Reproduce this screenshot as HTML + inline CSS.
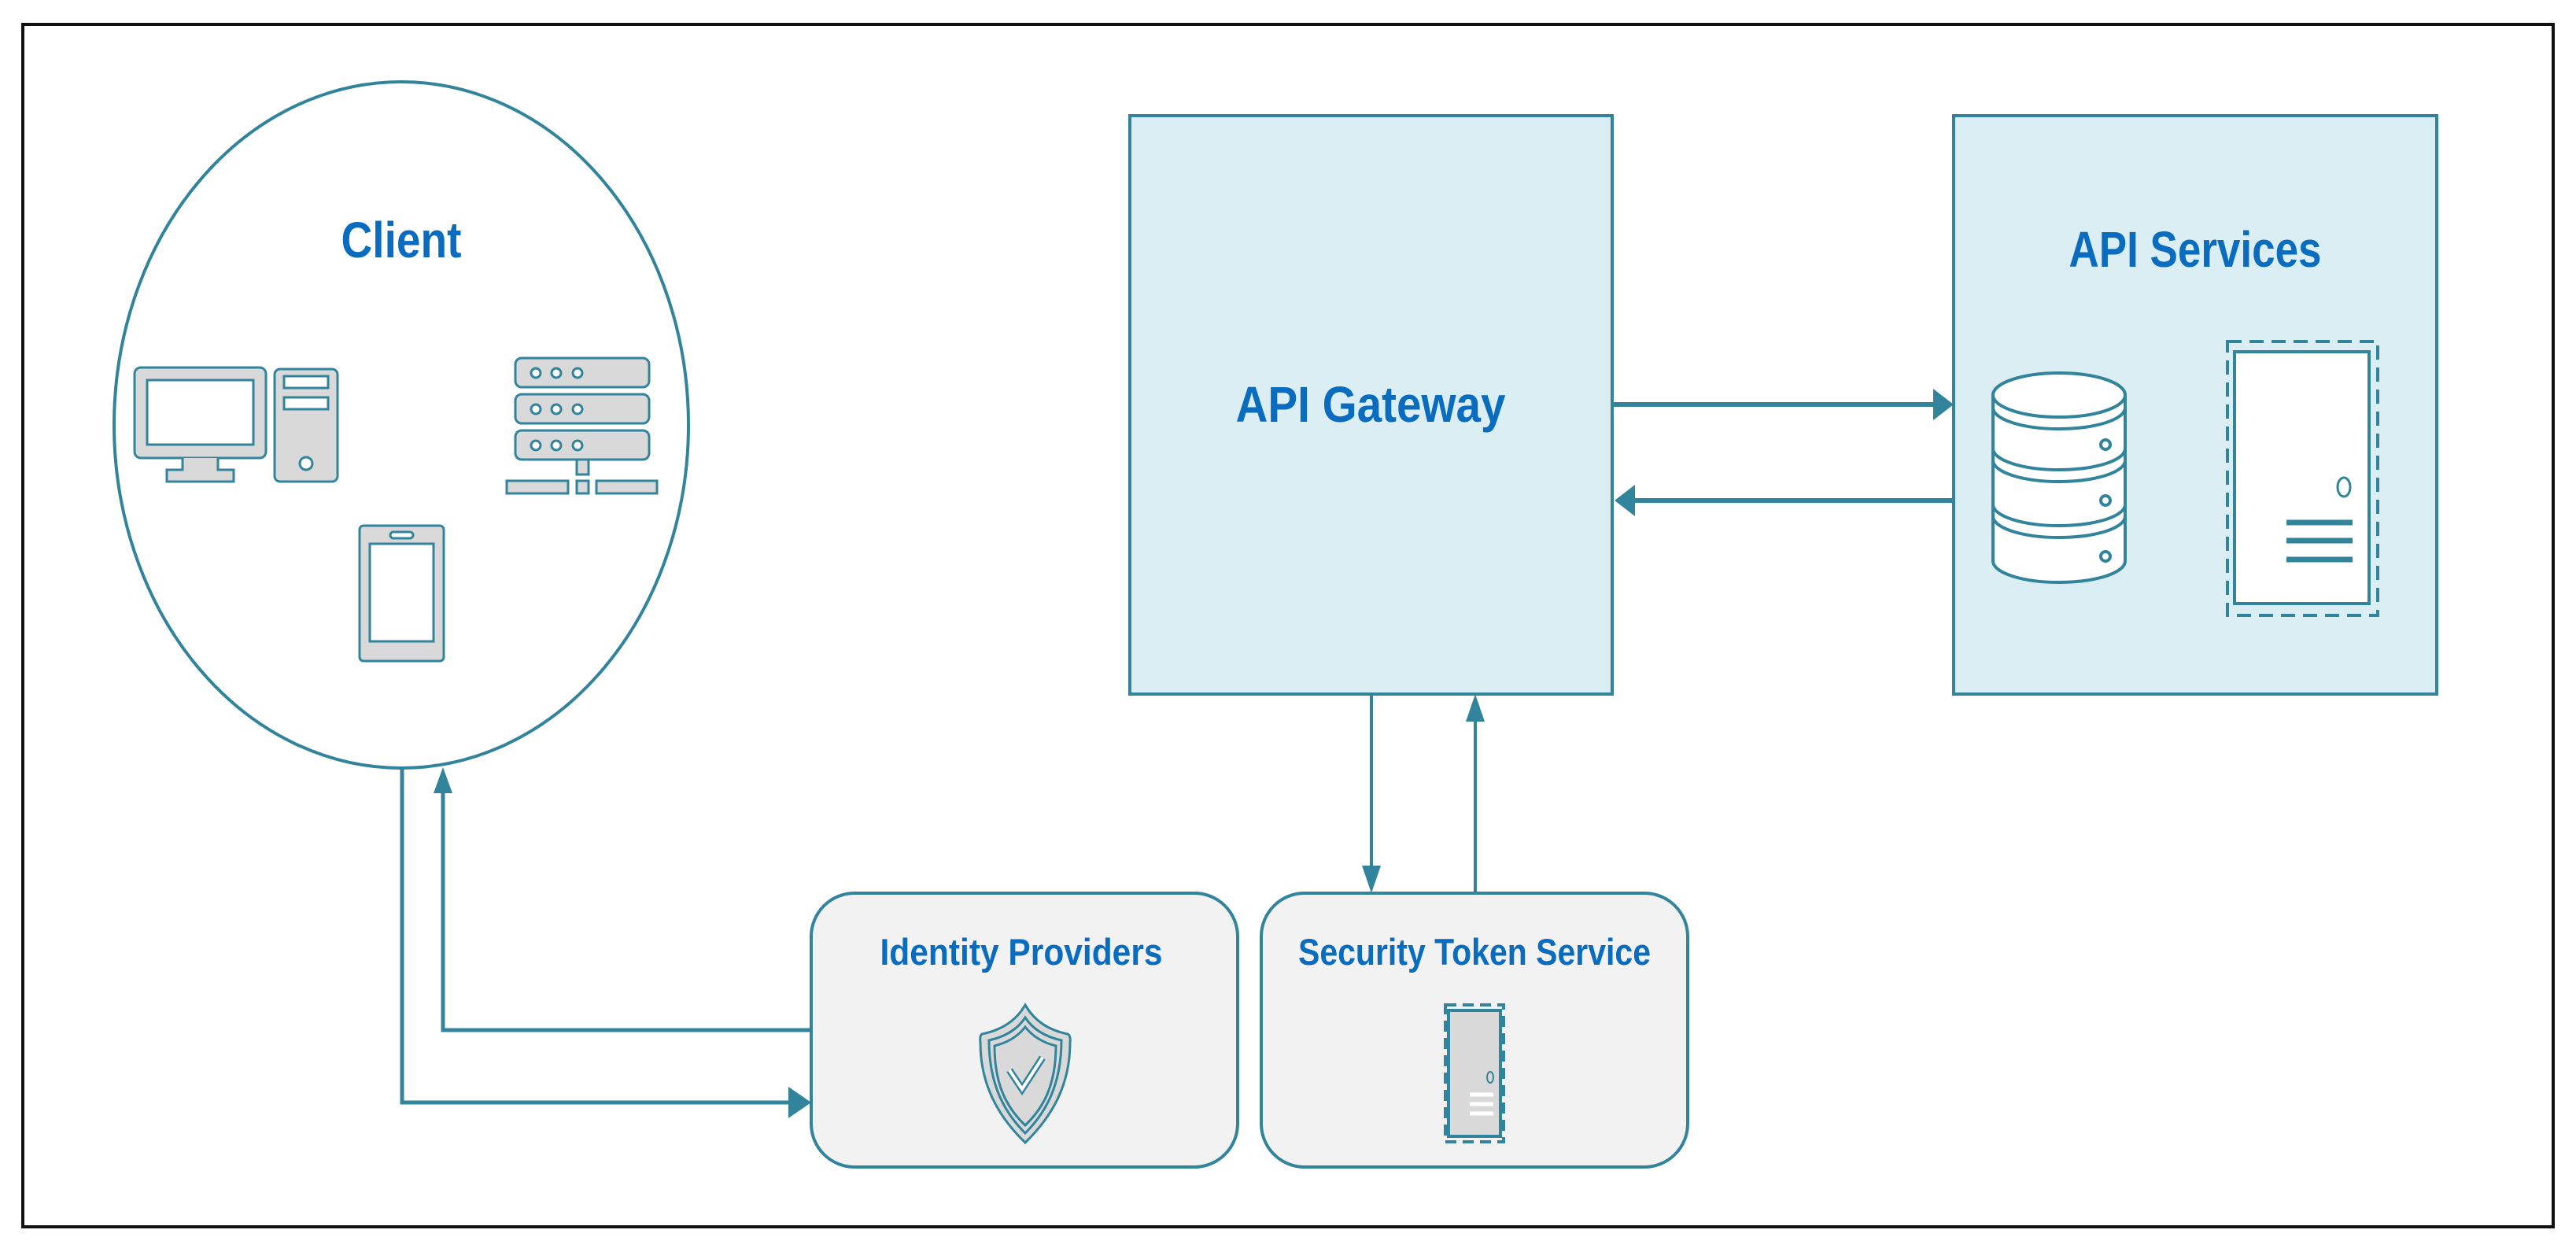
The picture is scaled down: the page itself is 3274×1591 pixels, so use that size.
<!DOCTYPE html>
<html><head><meta charset="utf-8"><style>
html,body{margin:0;padding:0;background:#fff;}
svg{display:block}
text{font-family:"Liberation Sans",sans-serif;font-weight:bold;fill:#0a6cbf;text-anchor:middle}
</style></head><body>
<svg width="3274" height="1591" viewBox="0 0 3274 1591" xmlns="http://www.w3.org/2000/svg">
<rect x="29" y="31" width="3216" height="1528" fill="#fff" stroke="#111" stroke-width="4"/>
<g stroke="#31849b" fill="none" stroke-width="4">
<ellipse cx="510" cy="540" rx="365" ry="436" fill="#fff"/>
<rect x="1436" y="147" width="613" height="735" fill="#daeef3"/>
<rect x="2483" y="147" width="614" height="735" fill="#daeef3"/>
<rect x="1031" y="1135" width="542" height="348" rx="55" fill="#f2f2f2"/>
<rect x="1603" y="1135" width="542" height="348" rx="55" fill="#f2f2f2"/>
<path d="M2049 514 H2462" stroke-width="6"/>
<path d="M2483 636 H2072" stroke-width="6"/>
<path d="M1743 882 V1112"/>
<path d="M1875 1135 V905"/>
<path d="M511 975 V1401 H1008" stroke-width="5"/>
<path d="M1031 1309 H563 V998" stroke-width="5"/>
</g>
<g fill="#31849b">
<polygon points="2483,514 2457,494 2457,534"/>
<polygon points="2052,636 2078,616 2078,656"/>
<polygon points="1743,1135 1731,1100 1755,1100"/>
<polygon points="1875,882 1863,917 1887,917"/>
<polygon points="1031,1401 1002,1381 1002,1421"/>
<polygon points="563,975 551,1008 575,1008"/>
</g>
<text x="510" y="327" font-size="64" textLength="153" lengthAdjust="spacingAndGlyphs">Client</text>
<text x="1742" y="536" font-size="64" textLength="343" lengthAdjust="spacingAndGlyphs">API Gateway</text>
<text x="2790" y="339" font-size="64" textLength="321" lengthAdjust="spacingAndGlyphs">API Services</text>
<text x="1298" y="1226" font-size="47" textLength="359" lengthAdjust="spacingAndGlyphs">Identity Providers</text>
<text x="1874" y="1226" font-size="47" textLength="448" lengthAdjust="spacingAndGlyphs">Security Token Service</text>
<g stroke="#31849b" stroke-width="3" fill="#d9d9d9">
<rect x="171" y="467" width="167" height="115" rx="8"/>
<rect x="187" y="483" width="135" height="82" fill="#fff"/>
<path d="M232 582 V597 H212 V612 H297 V597 H277 V582"/>
<rect x="349" y="469" width="80" height="143" rx="7"/>
<rect x="361" y="478" width="56" height="15" fill="#fff"/>
<rect x="361" y="505" width="56" height="15" fill="#fff"/>
<circle cx="389" cy="589" r="8" fill="#fff"/>
<rect x="655" y="455" width="170" height="37" rx="8"/>
<rect x="655" y="501" width="170" height="37" rx="8"/>
<rect x="655" y="547" width="170" height="37" rx="8"/>
<rect x="733" y="584" width="15" height="19"/>
<rect x="644" y="611" width="78" height="16"/>
<rect x="733" y="611" width="15" height="16"/>
<rect x="758" y="611" width="77" height="16"/>
<rect x="457" y="668" width="107" height="172" rx="5"/>
<rect x="470" y="691" width="81" height="124" fill="#fff"/>
<rect x="496" y="676" width="29" height="8" rx="4" fill="#fff"/>
</g>
<g fill="#fff" stroke="#31849b" stroke-width="3">
<circle cx="681" cy="474" r="6"/><circle cx="707" cy="474" r="6"/><circle cx="734" cy="474" r="6"/>
<circle cx="681" cy="520" r="6"/><circle cx="707" cy="520" r="6"/><circle cx="734" cy="520" r="6"/>
<circle cx="681" cy="566" r="6"/><circle cx="707" cy="566" r="6"/><circle cx="734" cy="566" r="6"/>
</g>
<!-- database -->
<g stroke="#31849b" stroke-width="4" fill="#fff">
<path d="M2533 502 V713 A84 27 0 0 0 2701 713 V502 Z"/>
<ellipse cx="2617" cy="502" rx="84" ry="28"/>
<g fill="none">
<path d="M2533 518 A84 27 0 0 0 2701 518"/>
<path d="M2533 570 A84 27 0 0 0 2701 570"/>
<path d="M2533 585 A84 27 0 0 0 2701 585"/>
<path d="M2533 641 A84 27 0 0 0 2701 641"/>
<path d="M2533 656 A84 27 0 0 0 2701 656"/>
</g>
<circle cx="2676" cy="565" r="6"/><circle cx="2676" cy="636" r="6"/><circle cx="2676" cy="707" r="6"/>
</g>
<rect x="2831" y="434" width="191" height="348" fill="none" stroke="#31849b" stroke-width="4" stroke-dasharray="18 10"/>
<rect x="2840" y="447" width="171" height="320" fill="#fff" stroke="#31849b" stroke-width="4"/>
<ellipse cx="2979" cy="619" rx="8" ry="12" fill="#fff" stroke="#31849b" stroke-width="3"/>
<g stroke="#31849b" stroke-width="7"><path d="M2906 664H2990M2906 687H2990M2906 711H2990"/></g>
<g stroke="#31849b" stroke-width="3" fill="#d9d9d9">
<path d="M1303 1277 C1290 1300 1268 1310 1248 1314 Q1245 1316 1246 1325 C1246 1380 1270 1420 1303 1452 C1336 1420 1360 1380 1360 1325 Q1361 1316 1357 1314 C1337 1310 1316 1300 1303 1277 Z"/>
<path d="M1303 1293 C1292 1310 1275 1318 1257 1322 C1257 1380 1278 1415 1303 1440 C1328 1415 1349 1380 1349 1322 C1331 1318 1314 1310 1303 1293 Z" fill="none"/>
<path d="M1303 1305 C1293 1318 1280 1325 1264 1329 C1264 1382 1282 1410 1303 1430 C1324 1410 1342 1382 1342 1329 C1326 1325 1313 1318 1303 1305 Z"/>
<path d="M1283 1360 L1299 1384 L1325 1344" fill="none" stroke="#31849b" stroke-width="9"/>
<path d="M1283 1360 L1299 1384 L1325 1344" fill="none" stroke="#fff" stroke-width="4"/>
</g>
<rect x="1837" y="1277" width="74" height="174" fill="none" stroke="#31849b" stroke-width="4" stroke-dasharray="14 8"/>
<rect x="1841" y="1284" width="66" height="160" fill="#d9d9d9" stroke="#31849b" stroke-width="4"/>
<ellipse cx="1894" cy="1369" rx="4" ry="7" fill="none" stroke="#31849b" stroke-width="2"/>
<g stroke="#fff" stroke-width="5"><path d="M1868 1391H1898M1868 1403H1898M1868 1415H1898"/></g>
</svg>
</body></html>
